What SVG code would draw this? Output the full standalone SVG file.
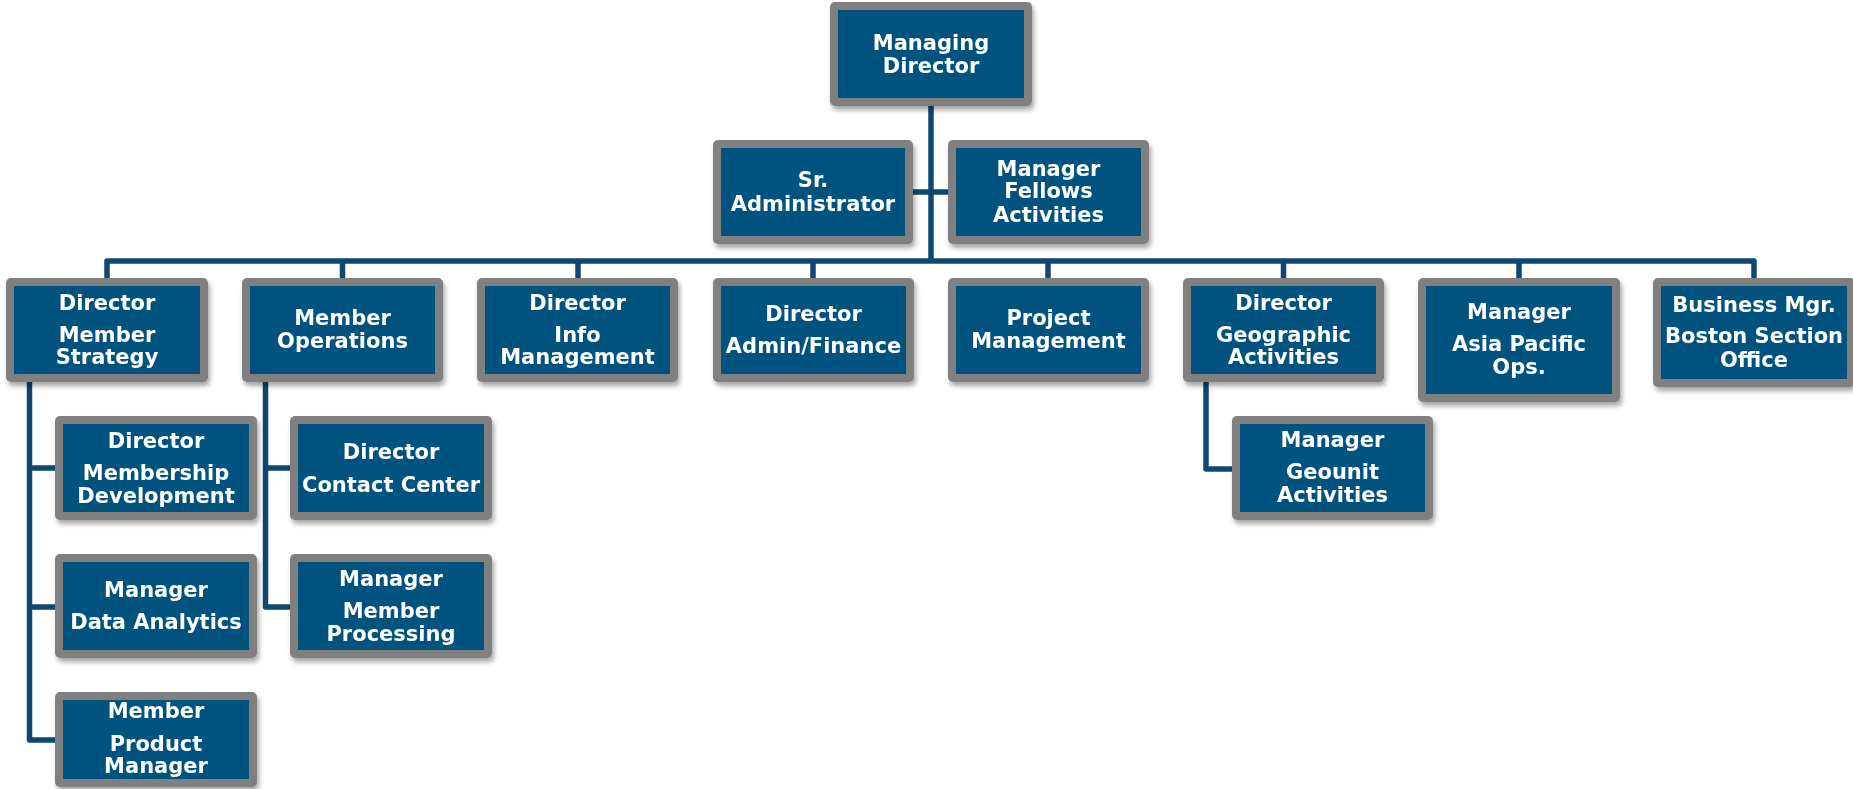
<svg xmlns="http://www.w3.org/2000/svg" width="1853" height="789" viewBox="0 0 1853 789">
<style>
.frame{fill:#808080}
.inner{fill:#03537f}
.t{font-family:"DejaVu Sans","Verdana",sans-serif;font-weight:bold;font-size:21px;fill:#ffffff;text-anchor:middle}
.conn{stroke:#0e4770;stroke-width:5.5;fill:none;stroke-linejoin:round;stroke-linecap:butt}
</style>
<defs>
<filter id="sh" x="-10%" y="-10%" width="125%" height="135%">
<feDropShadow dx="2" dy="4" stdDeviation="2.5" flood-color="#000" flood-opacity="0.35"/>
</filter>
</defs>
<rect width="1853" height="789" fill="#ffffff"/>
<g id="connectors">
<path class="conn" d="M931 106 V261" stroke-width="6"/>
<path class="conn" d="M913 192 H948"/>
<path class="conn" d="M107 278 V261 H1754 V278"/>
<path class="conn" d="M342.5 261 V278 M578 261 V278 M813 261 V278 M1048 261 V278 M1283.5 261 V278 M1519 261 V278"/>
<path class="conn" d="M29.5 382 V740 H55 M29.5 468 H55 M29.5 607 H55"/>
<path class="conn" d="M265.5 382 V607 H290 M265.5 468 H290"/>
<path class="conn" d="M1206 382 V469 H1232"/>
</g>
<g id="md" filter="url(#sh)"><rect class="frame" x="830" y="2" width="202" height="104" rx="5"/><rect class="inner" x="838" y="10" width="186" height="88"/><text class="t" x="931" y="50">Managing</text><text class="t" x="931" y="73">Director</text></g>
<g id="sradmin" filter="url(#sh)"><rect class="frame" x="713" y="140" width="200" height="104" rx="5"/><rect class="inner" x="721" y="148" width="184" height="88"/><text class="t" x="813" y="187">Sr.</text><text class="t" x="813" y="211">Administrator</text></g>
<g id="fellows" filter="url(#sh)"><rect class="frame" x="948" y="140" width="201" height="104" rx="5"/><rect class="inner" x="956" y="148" width="185" height="88"/><text class="t" x="1048.5" y="176">Manager</text><text class="t" x="1048.5" y="198">Fellows</text><text class="t" x="1048.5" y="222">Activities</text></g>
<g id="memberstrategy" filter="url(#sh)"><rect class="frame" x="6" y="278" width="202" height="104" rx="5"/><rect class="inner" x="14" y="286" width="186" height="88"/><text class="t" x="107" y="310">Director</text><text class="t" x="107" y="342">Member</text><text class="t" x="107" y="364">Strategy</text></g>
<g id="memberops" filter="url(#sh)"><rect class="frame" x="242" y="278" width="201" height="104" rx="5"/><rect class="inner" x="250" y="286" width="185" height="88"/><text class="t" x="342.5" y="325">Member</text><text class="t" x="342.5" y="348">Operations</text></g>
<g id="infomgmt" filter="url(#sh)"><rect class="frame" x="477" y="278" width="201" height="104" rx="5"/><rect class="inner" x="485" y="286" width="185" height="88"/><text class="t" x="577.5" y="310">Director</text><text class="t" x="577.5" y="342">Info</text><text class="t" x="577.5" y="364">Management</text></g>
<g id="adminfinance" filter="url(#sh)"><rect class="frame" x="713" y="278" width="201" height="104" rx="5"/><rect class="inner" x="721" y="286" width="185" height="88"/><text class="t" x="813.5" y="321">Director</text><text class="t" x="813.5" y="353">Admin/Finance</text></g>
<g id="projectmgmt" filter="url(#sh)"><rect class="frame" x="948" y="278" width="201" height="104" rx="5"/><rect class="inner" x="956" y="286" width="185" height="88"/><text class="t" x="1048.5" y="325">Project</text><text class="t" x="1048.5" y="348">Management</text></g>
<g id="geographic" filter="url(#sh)"><rect class="frame" x="1183" y="278" width="201" height="104" rx="5"/><rect class="inner" x="1191" y="286" width="185" height="88"/><text class="t" x="1283.5" y="310">Director</text><text class="t" x="1283.5" y="342">Geographic</text><text class="t" x="1283.5" y="364">Activities</text></g>
<g id="asiapacific" filter="url(#sh)"><rect class="frame" x="1418" y="278" width="202" height="124" rx="5"/><rect class="inner" x="1426" y="286" width="186" height="108"/><text class="t" x="1519" y="319">Manager</text><text class="t" x="1519" y="351">Asia Pacific</text><text class="t" x="1519" y="374">Ops.</text></g>
<g id="boston" filter="url(#sh)"><rect class="frame" x="1653" y="278" width="202" height="109" rx="5"/><rect class="inner" x="1661" y="286" width="186" height="93"/><text class="t" x="1754" y="312">Business Mgr.</text><text class="t" x="1754" y="343">Boston Section</text><text class="t" x="1754" y="367">Office</text></g>
<g id="membershipdev" filter="url(#sh)"><rect class="frame" x="55" y="416" width="202" height="104" rx="5"/><rect class="inner" x="63" y="424" width="186" height="88"/><text class="t" x="156" y="448">Director</text><text class="t" x="156" y="480">Membership</text><text class="t" x="156" y="503">Development</text></g>
<g id="dataanalytics" filter="url(#sh)"><rect class="frame" x="55" y="554" width="202" height="104" rx="5"/><rect class="inner" x="63" y="562" width="186" height="88"/><text class="t" x="156" y="597">Manager</text><text class="t" x="156" y="629">Data Analytics</text></g>
<g id="productmgr" filter="url(#sh)"><rect class="frame" x="55" y="692" width="202" height="95" rx="5"/><rect class="inner" x="63" y="700" width="186" height="79"/><text class="t" x="156" y="718">Member</text><text class="t" x="156" y="751">Product</text><text class="t" x="156" y="773">Manager</text></g>
<g id="contactcenter" filter="url(#sh)"><rect class="frame" x="290" y="416" width="202" height="104" rx="5"/><rect class="inner" x="298" y="424" width="186" height="88"/><text class="t" x="391" y="459">Director</text><text class="t" x="391" y="492">Contact Center</text></g>
<g id="memberprocessing" filter="url(#sh)"><rect class="frame" x="290" y="554" width="202" height="104" rx="5"/><rect class="inner" x="298" y="562" width="186" height="88"/><text class="t" x="391" y="586">Manager</text><text class="t" x="391" y="618">Member</text><text class="t" x="391" y="641">Processing</text></g>
<g id="geounit" filter="url(#sh)"><rect class="frame" x="1232" y="416" width="201" height="104" rx="5"/><rect class="inner" x="1240" y="424" width="185" height="88"/><text class="t" x="1332.5" y="447">Manager</text><text class="t" x="1332.5" y="479">Geounit</text><text class="t" x="1332.5" y="502">Activities</text></g>
</svg>
